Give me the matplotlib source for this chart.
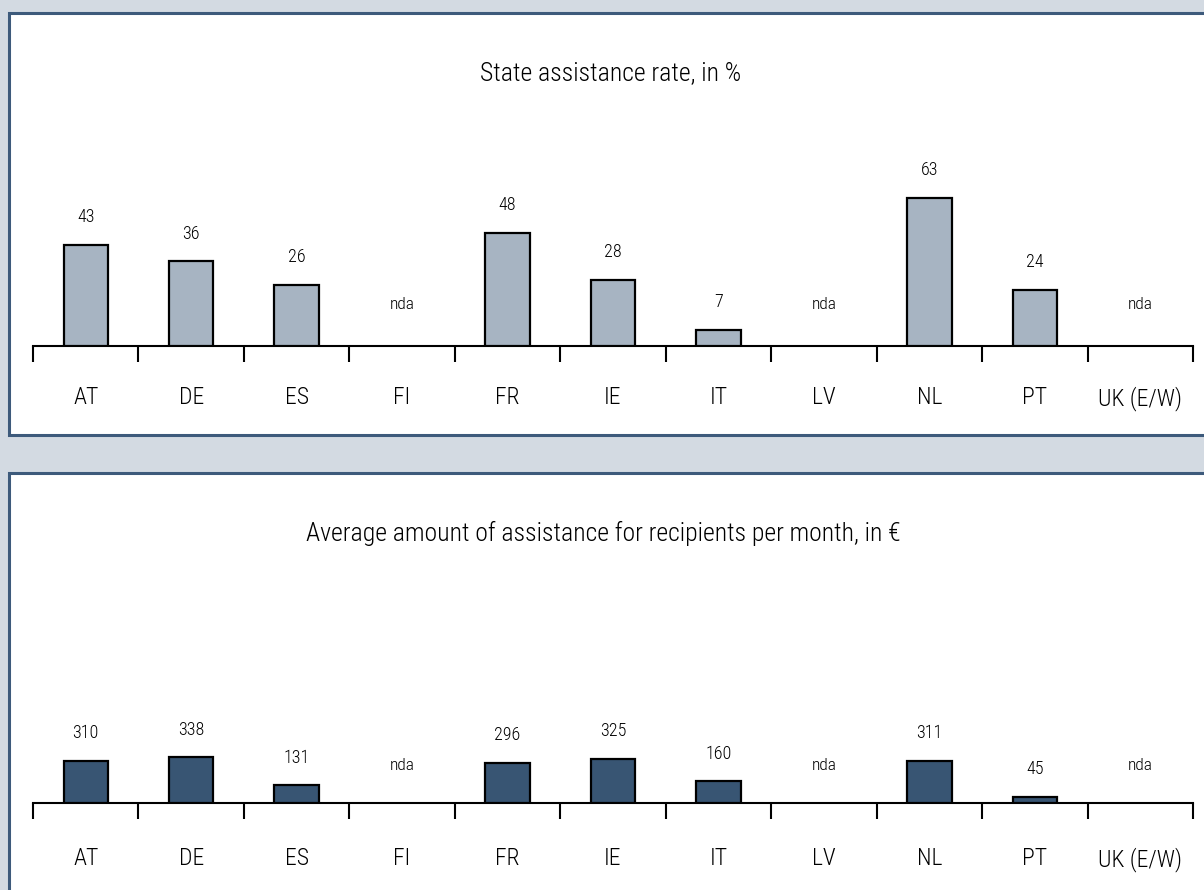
import numpy as np
import matplotlib
matplotlib.use('Agg')
import matplotlib.pyplot as plt
from matplotlib.patches import Rectangle

plt.rcParams['font.family'] = ['Roboto Condensed', 'DejaVu Sans']
plt.rcParams['font.weight'] = 'light'

# dados
paises = ['AT', 'DE', 'ES', 'FI', 'FR', 'IE', 'IT', 'LV', 'NL', 'PT', 'UK (E/W)']
taxa = [43, 36, 26, np.nan, 48, 28, 7, np.nan, 63, 24, np.nan]
valor = [310, 338, 131, np.nan, 296, 325, 160, np.nan, 311, 45, np.nan]

W, H = 1204, 890
fig = plt.figure(figsize=(W / 100, H / 100), dpi=100)
fig.patch.set_facecolor('#d3dae2')

def px_rect(x0, y0, x1, y1):
    # caixa branca do painel, coordenadas em pixels (origem no topo)
    r = Rectangle((x0 / W, 1 - y1 / H), (x1 - x0) / W, (y1 - y0) / H,
                  transform=fig.transFigure, facecolor='white',
                  edgecolor='#3d5a7b', linewidth=2.2, zorder=0)
    fig.add_artist(r)

px_rect(9, 13, 1215, 435)
px_rect(9, 473, 1215, 900)

def painel(base_y, top_y, ymax, vals, cor, titulo, titulo_x, titulo_y, nda_off, pad):
    ax = fig.add_axes([33 / W, 1 - base_y / H, (1193 - 33) / W, (base_y - top_y) / H])
    ax.set_facecolor('none')
    x = np.arange(len(paises))
    v = np.array(vals, dtype=float)
    ok = ~np.isnan(v)
    ax.bar(x[ok], v[ok], width=0.42, color=cor, edgecolor='black', linewidth=1.6, zorder=3)
    for xi, val in zip(x, vals):
        if np.isnan(val):
            ax.annotate('nda', (xi, 0), xytext=(0, nda_off), textcoords='offset points',
                        ha='center', va='center', fontsize=12.5)
        else:
            ax.annotate(str(int(val)), (xi, val), xytext=(0, 20), textcoords='offset points',
                        ha='center', va='center', fontsize=13)
    ax.set_xlim(-0.5, len(paises) - 0.5)
    ax.set_ylim(0, ymax)
    for s in ['top', 'right', 'left']:
        ax.spines[s].set_visible(False)
    ax.spines['bottom'].set_linewidth(1.5)
    ax.set_yticks([])
    ax.set_xticks(x)
    ax.set_xticklabels(paises, fontsize=17)
    ax.tick_params(axis='x', which='major', length=0, pad=pad)
    ax.set_xticks(np.arange(len(paises) + 1) - 0.5, minor=True)
    ax.tick_params(axis='x', which='minor', length=11.5, width=1.5, direction='out')
    fig.text(titulo_x / W, 1 - titulo_y / H, titulo, ha='center', va='center', fontsize=18.5)
    return ax

painel(346, 100, 104.7, taxa, '#a7b4c2', 'State assistance rate, in %', 611, 73, 30, 29)
painel(803, 560, 1800, valor, '#385573',
       'Average amount of assistance for recipients per month, in €', 603, 533, 27, 32)

fig.savefig('out.png', dpi=100, facecolor=fig.get_facecolor())
